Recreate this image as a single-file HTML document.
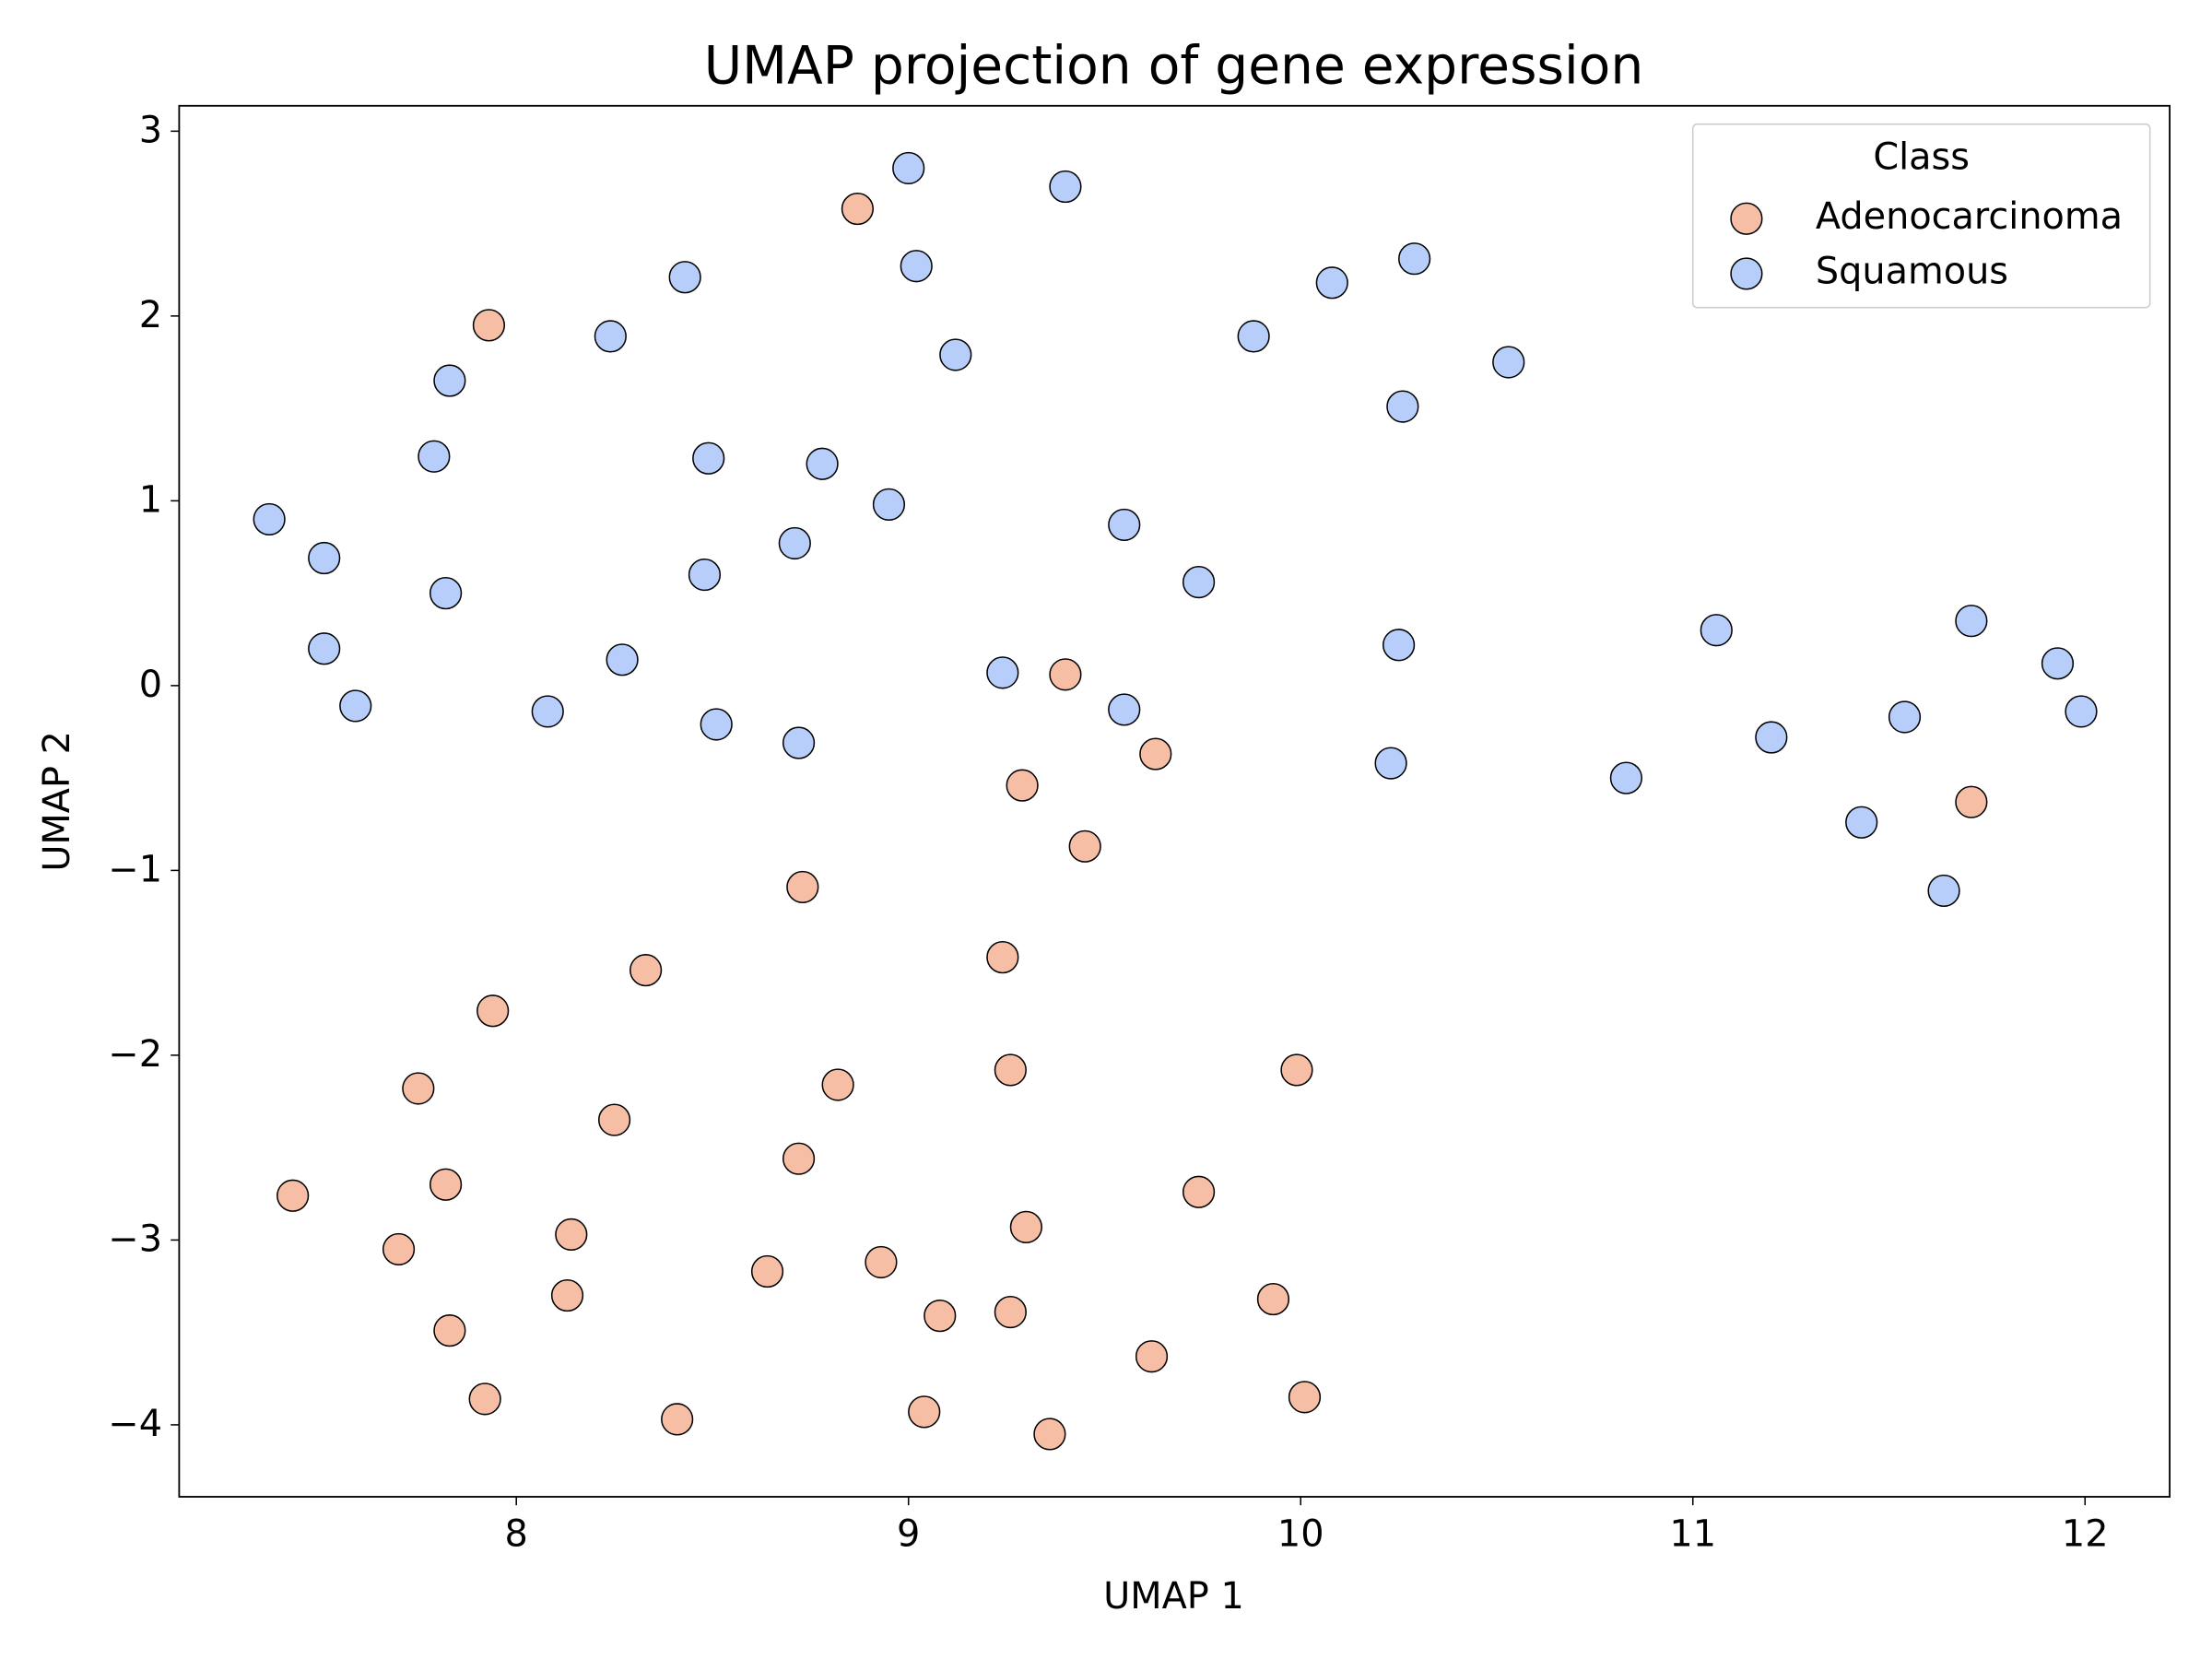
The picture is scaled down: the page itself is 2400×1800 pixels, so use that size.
<!DOCTYPE html>
<html><head><meta charset="utf-8">
<style>
html,body{margin:0;padding:0;background:#fff;}
svg{display:block;font-family:"DejaVu Sans","Liberation Sans",sans-serif;}
</style></head>
<body>
<svg id="chart" width="2400" height="1800" viewBox="0 0 1568 1176" xmlns="http://www.w3.org/2000/svg">
<rect width="1568" height="1176" fill="#fff"/>
<text x="832" y="59" font-size="37" text-anchor="middle" fill="#000">UMAP projection of gene expression</text>
<g id="marks"></g>
<g id="axes"></g>
<rect x="127" y="75" width="1411" height="986" fill="none" stroke="#000" stroke-width="1.2"/>
<text x="832" y="1140" font-size="26" text-anchor="middle">UMAP 1</text>
<text transform="translate(49,568) rotate(-90)" font-size="26" text-anchor="middle">UMAP 2</text>
<g>
<rect x="1200" y="88" width="324" height="130" rx="3" fill="#fff" fill-opacity="0.8" stroke="#ccc" stroke-width="1"/>
<text x="1362" y="120" font-size="26" text-anchor="middle">Class</text>
<g>
<circle cx="1238" cy="155" r="11" fill="#f6bea5" stroke="#000" stroke-width="1"/>
<text x="1287" y="162" font-size="26">Adenocarcinoma</text></g>
<g>
<circle cx="1238" cy="194" r="11" fill="#b7cefa" stroke="#000" stroke-width="1"/>
<text x="1287" y="201" font-size="26">Squamous</text></g>
</g>
</svg>
<script>
const adenoX=[8.87,7.93,9.40,9.63,9.29,9.45,8.73,9.24,8.33,7.94,7.75,8.82,9.26,9.99,8.25,7.43,7.82,8.72,9.74,7.70,8.14,9.30,8.13,8.64,8.93,9.08,9.26,9.93,7.83,9.62,7.92,8.41,9.04,9.36,10.01,11.71];
const adenoY=[2.58,1.95,0.06,-0.37,-0.54,-0.87,-1.09,-1.47,-1.54,-1.76,-2.18,-2.16,-2.08,-2.08,-2.35,-2.76,-2.70,-2.56,-2.74,-3.05,-2.97,-2.93,-3.30,-3.17,-3.12,-3.41,-3.39,-3.32,-3.49,-3.63,-3.86,-3.97,-3.93,-4.05,-3.85,-0.63];
const squamX=[9.00,9.40,9.02,8.43,8.24,9.12,10.08,10.29,9.88,10.53,10.26,7.83,7.79,8.49,8.78,8.95,7.37,7.51,8.71,9.55,7.82,8.48,9.74,7.51,8.27,7.59,8.08,8.51,8.72,9.24,9.55,10.25,10.23,10.83,11.06,11.20,11.43,11.54,11.71,11.64,11.93,11.99];
const squamY=[2.80,2.70,2.27,2.21,1.89,1.79,2.18,2.31,1.89,1.75,1.51,1.65,1.24,1.23,1.20,0.98,0.90,0.69,0.77,0.87,0.50,0.60,0.56,0.20,0.14,-0.11,-0.14,-0.21,-0.31,0.07,-0.13,0.22,-0.42,-0.50,0.30,-0.28,-0.74,-0.17,0.35,-1.11,0.12,-0.14];
const xTicks=[8,9,10,11,12];
const yTicks=[3,2,1,0,-1,-2,-3,-4];
const NS="http://www.w3.org/2000/svg";
function sx(v){return 366+(v-8)*278;}
function sy(v){return 486-v*131;}
const marks=document.getElementById('marks');
function drawSeries(xs,ys,fill,name){
  for(let i=0;i<xs.length;i++){
    const c=document.createElementNS(NS,'circle');
    c.setAttribute('cx',sx(xs[i]));c.setAttribute('cy',sy(ys[i]));
    c.setAttribute('r',11);c.setAttribute('fill',fill);
    c.setAttribute('stroke','#000');c.setAttribute('stroke-width',1);
    
    
    marks.appendChild(c);
  }
}
drawSeries(adenoX,adenoY,'#f6bea5','adenocarcinoma-point');
drawSeries(squamX,squamY,'#b7cefa','squamous-point');
const axes=document.getElementById('axes');
xTicks.forEach(t=>{
  const l=document.createElementNS(NS,'line');
  l.setAttribute('x1',sx(t));l.setAttribute('x2',sx(t));l.setAttribute('y1',1061);l.setAttribute('y2',1067);
  l.setAttribute('stroke','#000');
  
  
  axes.appendChild(l);
  const tx=document.createElementNS(NS,'text');
  tx.setAttribute('x',sx(t));tx.setAttribute('y',1096);tx.setAttribute('font-size',26);tx.setAttribute('text-anchor','middle');
  tx.textContent=t;
  
  
  axes.appendChild(tx);
});
yTicks.forEach(t=>{
  const l=document.createElementNS(NS,'line');
  l.setAttribute('x1',121);l.setAttribute('x2',127);l.setAttribute('y1',sy(t));l.setAttribute('y2',sy(t));
  l.setAttribute('stroke','#000');
  
  
  axes.appendChild(l);
  const tx=document.createElementNS(NS,'text');
  tx.setAttribute('x',115);tx.setAttribute('y',sy(t)+8);tx.setAttribute('font-size',26);tx.setAttribute('text-anchor','end');
  tx.textContent=t<0?'\u2212'+Math.abs(t):String(t);
  
  
  axes.appendChild(tx);
});
</script>
</body></html>
